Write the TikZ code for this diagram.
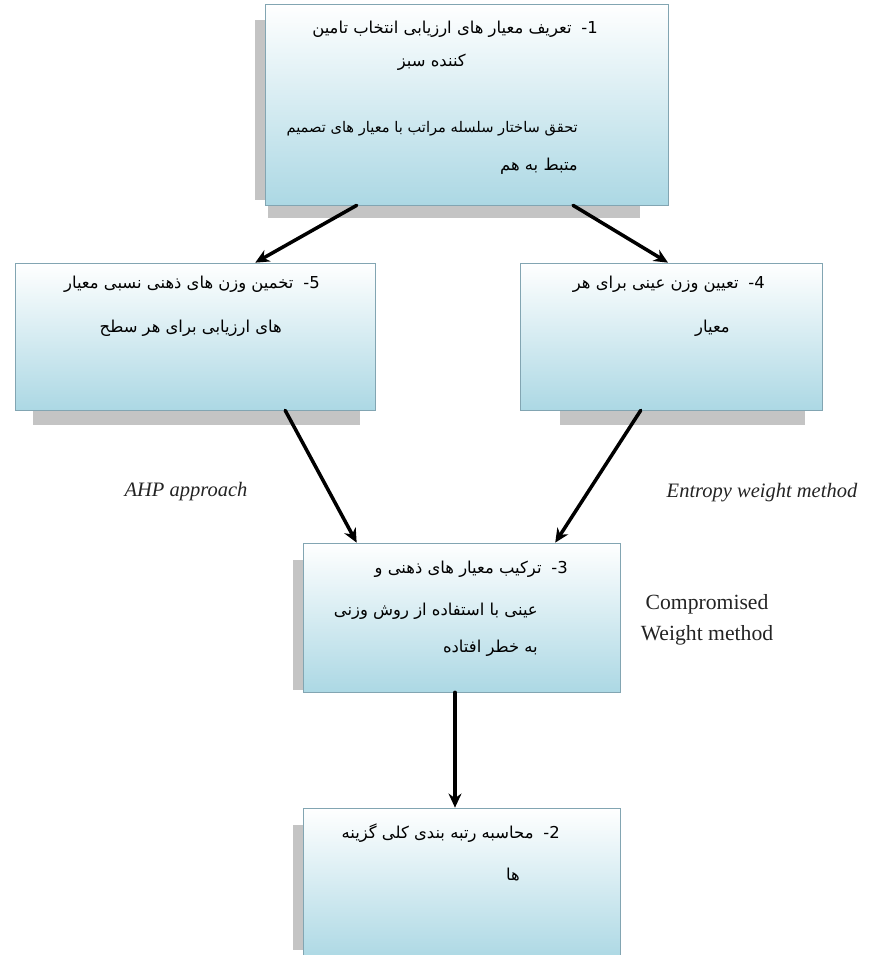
\documentclass[tikz,border=0pt]{standalone}
\usepackage{fontspec}
\setmainfont{Liberation Serif}
\newfontfamily\fa[Script=Arabic]{DejaVu Sans}
\newfontfamily\numfont{DejaVu Sans}
\TeXXeTstate=1
\usetikzlibrary{fit,calc,arrows.meta}
\definecolor{boxblue}{RGB}{172,216,228}
\definecolor{boxline}{RGB}{130,165,178}
\definecolor{shadowgray}{RGB}{196,196,196}
\definecolor{labelgray}{RGB}{35,35,35}
\newcommand\stepno[1]{\hspace{0.6em}{\numfont -#1}}
\begin{document}
\begin{tikzpicture}[line cap=round,>={Stealth[length=12pt,width=11pt]},x=0.3mm,y=-0.3mm,
  stepbox/.style={draw=boxline,line width=0.6pt,top color=white,bottom color=boxblue,inner sep=0pt},
  fl/.style={font=\fa\fontsize{14}{17}\selectfont,anchor=base east,inner sep=0pt},
  en/.style={text=labelgray,align=center,inner sep=0pt},
  flow/.style={->,line width=3pt}]
\useasboundingbox (0,0) rectangle (869,955);
% shadows
\fill[shadowgray] (268,205) rectangle (640,218);
\fill[shadowgray] (255,20) rectangle (265,200);
\fill[shadowgray] (33,410) rectangle (360,425);
\fill[shadowgray] (560,410) rectangle (805,425);
\fill[shadowgray] (293,560) rectangle (303,690);
\fill[shadowgray] (293,825) rectangle (303,950);
% boxes
\node[stepbox,fit={(265,4) (668,205)}] (one) {};
\node[stepbox,fit={(15,263) (375,410)}] (five) {};
\node[stepbox,fit={(520,263) (822,410)}] (four) {};
\node[stepbox,fit={(303,543) (620,692)}] (three) {};
\node[stepbox,fit={(303,808) (620,960)}] (two) {};
% texts
\node[fl] (one-a) at (598,33) {\beginR تعریف معیار های ارزیابی انتخاب تامین\endR\stepno{1}};
\node[fl] (one-b) at (466,66) {\beginR کننده سبز\endR};
\node[fl,font=\fa\fontsize{12.5}{15}\selectfont] (one-c) at (578,132) {\beginR تحقق ساختار سلسله مراتب با معیار های تصمیم\endR};
\node[fl] (one-d) at (578,170) {\beginR متبط به هم\endR};
\node[fl] (five-a) at (320,288) {\beginR تخمین وزن های ذهنی نسبی معیار\endR\stepno{5}};
\node[fl] (five-b) at (282,332) {\beginR های ارزیابی برای هر سطح\endR};
\node[fl] (four-a) at (765,288) {\beginR تعیین وزن عینی برای هر\endR\stepno{4}};
\node[fl] (four-b) at (730,332) {\beginR معیار\endR};
\node[fl] (three-a) at (568,573) {\beginR ترکیب معیار های ذهنی و\endR\stepno{3}};
\node[fl] (three-b) at (538,615) {\beginR عینی با استفاده از روش وزنی\endR};
\node[fl] (three-c) at (538,652) {\beginR به خطر افتاده\endR};
\node[fl] (two-a) at (560,838) {\beginR محاسبه رتبه بندی کلی گزینه\endR\stepno{2}};
\node[fl] (two-b) at (520,880) {\beginR ها\endR};
\node[en,font=\fontsize{17.5}{25}\selectfont\itshape] (ahp) at (186,492) {AHP approach};
\node[en,font=\fontsize{17.5}{25}\selectfont\itshape] (entropy) at (762,493) {Entropy weight method};
\node[en,font=\fontsize{18.5}{26}\selectfont] (compromised) at (707,620) {Compromised\\Weight method};
% arrows
\draw[flow] ($(one.south west)!.228!(one.south east)$) -- ($(five.north west)!.667!(five.north east)$);
\draw[flow] ($(one.south west)!.764!(one.south east)$) -- ($(four.north west)!.49!(four.north east)$);
\draw[flow] ($(five.south west)!.75!(five.south east)$) -- ($(three.north west)!.17!(three.north east)$);
\draw[flow] ($(four.south west)!.40!(four.south east)$) -- ($(three.north west)!.795!(three.north east)$);
\draw[flow] (three.south -| 455,0) -- (two.north -| 455,0);
\end{tikzpicture}
\end{document}
